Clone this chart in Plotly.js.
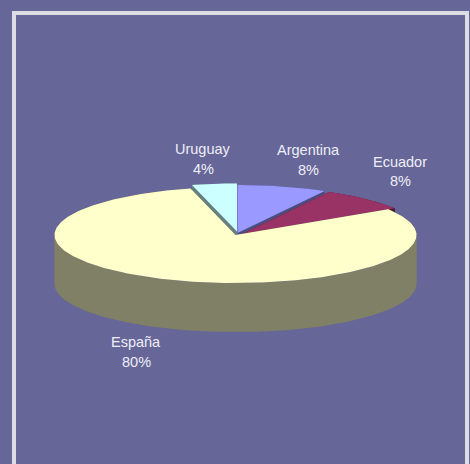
<!DOCTYPE html>
<html><head><meta charset="utf-8">
<script src="https://cdn.plot.ly/plotly-3.0.1.min.js"></script>
<style>html,body{margin:0;padding:0;background:#666699}#c{width:470px;height:464px}</style>
</head><body><div id="c"></div><script>
// Data, clockwise from 12 o'clock
const categories = ["Argentina","Ecuador","España","Uruguay"];
const shares = [8,8,80,4];
const percentLabels = ["8%","8%","80%","4%"];
// Styles
const topColors = ["#9999ff","#993366","#ffffcc","#ccffff"];
const sideColors = ["#4d4d80","#4d1a33","#808066","#668080"];
// Geometry (pixels on the page-sized axes)
const cx=236, cy=235, rx=181, ry=48, depth=49;
const sliceShift = [[1.5,-2],[6,-1],[-0.5,0],[1,-3.5]];
const labelX = [308,400,136,203];
const nameY = [150,162,342,149];
const pctY = [170,181,362,169];
const drawOrder = [0,1,3,2];

const total = shares.reduce((a,b)=>a+b,0);
const starts = []; shares.reduce((acc,v,i)=>{starts[i]=acc;return acc+v;},0);
function pt(i,deg,down){
  const t=deg*Math.PI/180;
  return [cx+sliceShift[i][0]+rx*Math.sin(t), cy+sliceShift[i][1]-ry*Math.cos(t)+(down||0)];
}
function arc(i,a,b,down){
  const n=Math.max(2,Math.ceil(Math.abs(b-a)));const out=[];
  for(let k=0;k<=n;k++) out.push(pt(i,a+(b-a)*k/n,down));
  return out;
}
function apex(i,down){return [cx+sliceShift[i][0],cy+sliceShift[i][1]+(down||0)];}
function toTrace(polys,color,name){
  const x=[],y=[];
  polys.forEach((p,j)=>{ if(j){x.push(null);y.push(null);} p.forEach(q=>{x.push(q[0]);y.push(q[1]);}); x.push(p[0][0]);y.push(p[0][1]); });
  return {type:'scatter',mode:'lines',x,y,fill:'toself',fillcolor:color,line:{width:0},name,hoverinfo:'name',showlegend:false};
}
const traces=[];
drawOrder.forEach(i=>{
  const a=starts[i]/total*360, b=(starts[i]+shares[i])/total*360;
  const sa=pt(i,a), sb=pt(i,b), sa2=pt(i,a,depth), sb2=pt(i,b,depth), o=apex(i), o2=apex(i,depth);
  const polys=[[o,sa,sa2,o2],[o,sb,sb2,o2]];
  // wall bands split where the rim turns, so that each stays a simple polygon
  const cuts=[a].concat([90,270].filter(c=>c>a&&c<b),[b]);
  for(let k=0;k<cuts.length-1;k++){
    polys.push(arc(i,cuts[k],cuts[k+1]).concat(arc(i,cuts[k+1],cuts[k],depth)));
  }
  polys.forEach(p=>traces.push(toTrace([p],sideColors[i],categories[i]+" lado")));
  traces.push(toTrace([[o].concat(arc(i,a,b))],topColors[i],categories[i]));
});
const annotations=[];
categories.forEach((c,i)=>{
  const f={family:'"Liberation Sans", Arial, sans-serif',size:14.5,color:'#eeeef6'};
  annotations.push({x:labelX[i],y:nameY[i],xref:'x',yref:'y',text:c,showarrow:false,font:f,xanchor:'center',yanchor:'middle'});
  annotations.push({x:labelX[i],y:pctY[i],xref:'x',yref:'y',text:percentLabels[i],showarrow:false,font:f,xanchor:'center',yanchor:'middle'});
});
const frame={type:'path',xref:'x',yref:'y',path:'M14,464 L14,13 L467,13 L467,464',line:{color:'#dcdce4',width:4},layer:'above'};
Plotly.newPlot('c',traces,{
  width:470,height:464,margin:{l:0,r:0,t:0,b:0},
  paper_bgcolor:'#666699',plot_bgcolor:'#666699',showlegend:false,
  xaxis:{range:[0,470],visible:false,fixedrange:true},
  yaxis:{range:[464,0],visible:false,fixedrange:true},
  annotations,shapes:[frame]
},{displayModeBar:false,staticPlot:true});
</script></body></html>
